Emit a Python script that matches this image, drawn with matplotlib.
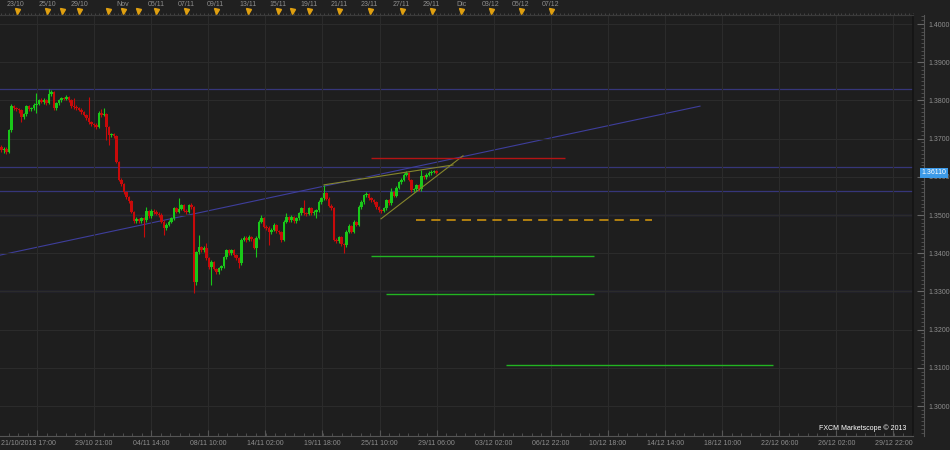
import numpy as np
import matplotlib.pyplot as plt
from matplotlib.ticker import MultipleLocator, FixedLocator
import matplotlib.transforms as mtransforms

plt.rcParams['font.family'] = ['Liberation Sans', 'DejaVu Sans']

# H4 candles, EUR/USD-like (open = previous close)
first_open = 1.3678
closes = [1.3670, 1.3673, 1.3665, 1.3722, 1.3785, 1.3780, 1.3777, 1.3775, 1.3757, 1.3764,
          1.3785, 1.3777, 1.3780, 1.3788, 1.3791, 1.3801, 1.3796, 1.3801, 1.3793, 1.3817,
          1.3822, 1.3780, 1.3793, 1.3801, 1.3806, 1.3804, 1.3809, 1.3801, 1.3785, 1.3783,
          1.3780, 1.3775, 1.3770, 1.3762, 1.3754, 1.3743, 1.3738, 1.3736, 1.3730, 1.3767,
          1.3762, 1.3764, 1.3730, 1.3709, 1.3712, 1.3707, 1.3639, 1.3592, 1.3581, 1.3560,
          1.3547, 1.3537, 1.3508, 1.3484, 1.3490, 1.3484, 1.3492, 1.3487, 1.3511, 1.3497,
          1.3511, 1.3508, 1.3503, 1.3500, 1.3482, 1.3466, 1.3474, 1.3482, 1.3492, 1.3518,
          1.3508, 1.3516, 1.3526, 1.3511, 1.3508, 1.3526, 1.3521, 1.3325, 1.3403, 1.3416,
          1.3408, 1.3414, 1.3387, 1.3364, 1.3377, 1.3359, 1.3351, 1.3361, 1.3366, 1.3390,
          1.3408, 1.3400, 1.3408, 1.3395, 1.3387, 1.3374, 1.3435, 1.3440, 1.3435, 1.3442,
          1.3437, 1.3414, 1.3440, 1.3482, 1.3492, 1.3469, 1.3466, 1.3456, 1.3461, 1.3474,
          1.3458, 1.3456, 1.3435, 1.3482, 1.3495, 1.3487, 1.3495, 1.3484, 1.3492, 1.3505,
          1.3518, 1.3505, 1.3503, 1.3518, 1.3505, 1.3508, 1.3513, 1.3534, 1.3544, 1.3558,
          1.3542, 1.3524, 1.3518, 1.3435, 1.3432, 1.3442, 1.3424, 1.3421, 1.3456, 1.3471,
          1.3456, 1.3482, 1.3474, 1.3521, 1.3534, 1.3552, 1.3555, 1.3544, 1.3539, 1.3534,
          1.3521, 1.3513, 1.3511, 1.3518, 1.3539, 1.3531, 1.3560, 1.3550, 1.3571, 1.3586,
          1.3592, 1.3605, 1.3610, 1.3592, 1.3565, 1.3568, 1.3578, 1.3568, 1.3602, 1.3599,
          1.3605, 1.3610, 1.3613, 1.3615, 1.3611]
highs = [1.3682, 1.3678, 1.3677, 1.3726, 1.3790, 1.3789, 1.3784, 1.3781, 1.3778, 1.3768,
         1.3789, 1.3788, 1.3784, 1.3792, 1.3819, 1.3805, 1.3806, 1.3806, 1.3804, 1.3830,
         1.3828, 1.3825, 1.3797, 1.3805, 1.3810, 1.3810, 1.3813, 1.3812, 1.3804, 1.3806,
         1.3787, 1.3784, 1.3779, 1.3773, 1.3765, 1.3809, 1.3747, 1.3742, 1.3740, 1.3771,
         1.3777, 1.3780, 1.3768, 1.3734, 1.3716, 1.3715, 1.3710, 1.3642, 1.3596, 1.3585,
         1.3564, 1.3550, 1.3540, 1.3511, 1.3494, 1.3493, 1.3496, 1.3495, 1.3522, 1.3514,
         1.3515, 1.3515, 1.3512, 1.3507, 1.3504, 1.3486, 1.3478, 1.3486, 1.3496, 1.3522,
         1.3521, 1.3544, 1.3530, 1.3529, 1.3515, 1.3530, 1.3531, 1.3524, 1.3407, 1.3448,
         1.3420, 1.3418, 1.3427, 1.3390, 1.3381, 1.3380, 1.3362, 1.3365, 1.3370, 1.3394,
         1.3412, 1.3412, 1.3412, 1.3411, 1.3398, 1.3390, 1.3439, 1.3446, 1.3444, 1.3447,
         1.3446, 1.3440, 1.3444, 1.3486, 1.3500, 1.3495, 1.3474, 1.3470, 1.3465, 1.3480,
         1.3477, 1.3462, 1.3459, 1.3486, 1.3505, 1.3498, 1.3499, 1.3498, 1.3496, 1.3509,
         1.3522, 1.3539, 1.3509, 1.3522, 1.3521, 1.3512, 1.3517, 1.3538, 1.3548, 1.3578,
         1.3561, 1.3546, 1.3528, 1.3521, 1.3439, 1.3446, 1.3445, 1.3428, 1.3460, 1.3476,
         1.3474, 1.3486, 1.3485, 1.3525, 1.3538, 1.3556, 1.3560, 1.3558, 1.3547, 1.3542,
         1.3537, 1.3524, 1.3516, 1.3522, 1.3543, 1.3542, 1.3571, 1.3563, 1.3575, 1.3590,
         1.3596, 1.3609, 1.3614, 1.3613, 1.3595, 1.3572, 1.3582, 1.3581, 1.3618, 1.3606,
         1.3609, 1.3614, 1.3617, 1.3619, 1.3619]
lows = [1.3666, 1.3663, 1.3660, 1.3662, 1.3718, 1.3776, 1.3772, 1.3768, 1.3743, 1.3752,
        1.3760, 1.3773, 1.3772, 1.3776, 1.3767, 1.3787, 1.3792, 1.3791, 1.3788, 1.3790,
        1.3812, 1.3776, 1.3776, 1.3789, 1.3797, 1.3800, 1.3800, 1.3797, 1.3781, 1.3778,
        1.3775, 1.3771, 1.3765, 1.3758, 1.3750, 1.3739, 1.3734, 1.3731, 1.3726, 1.3727,
        1.3757, 1.3758, 1.3696, 1.3683, 1.3704, 1.3702, 1.3635, 1.3588, 1.3576, 1.3556,
        1.3542, 1.3532, 1.3504, 1.3479, 1.3480, 1.3479, 1.3480, 1.3442, 1.3483, 1.3493,
        1.3493, 1.3503, 1.3499, 1.3495, 1.3478, 1.3448, 1.3462, 1.3470, 1.3478, 1.3488,
        1.3504, 1.3504, 1.3512, 1.3507, 1.3503, 1.3504, 1.3516, 1.3296, 1.3318, 1.3399,
        1.3403, 1.3403, 1.3383, 1.3359, 1.3317, 1.3355, 1.3346, 1.3346, 1.3357, 1.3362,
        1.3386, 1.3396, 1.3396, 1.3391, 1.3383, 1.3361, 1.3370, 1.3431, 1.3430, 1.3431,
        1.3433, 1.3410, 1.3390, 1.3436, 1.3478, 1.3465, 1.3461, 1.3421, 1.3451, 1.3457,
        1.3454, 1.3451, 1.3430, 1.3431, 1.3478, 1.3483, 1.3483, 1.3480, 1.3480, 1.3488,
        1.3501, 1.3501, 1.3498, 1.3499, 1.3501, 1.3500, 1.3492, 1.3509, 1.3530, 1.3540,
        1.3538, 1.3520, 1.3513, 1.3431, 1.3427, 1.3428, 1.3420, 1.3400, 1.3417, 1.3452,
        1.3452, 1.3452, 1.3470, 1.3470, 1.3517, 1.3530, 1.3548, 1.3540, 1.3535, 1.3530,
        1.3517, 1.3509, 1.3506, 1.3507, 1.3514, 1.3527, 1.3527, 1.3546, 1.3546, 1.3567,
        1.3582, 1.3588, 1.3601, 1.3588, 1.3561, 1.3560, 1.3564, 1.3564, 1.3564, 1.3595,
        1.3595, 1.3601, 1.3606, 1.3609, 1.3607]
last_price = 1.36110

# drawn objects (x in candle index)
levels_blue = [1.3830, 1.3626, 1.3563, 1.3500, 1.3300]
trend_blue = ([-0.6, 279.4], [1.3395, 1.3785])
wedge_upper = ([129, 180.6], [1.3579, 1.3631])
wedge_lower = ([151.8, 184.6], [1.3490, 1.3655])
red_level = (1.3649, 147.8, 225.4)
orange_level = (1.3487, 165.8, 260.2)
green_levels = [(1.3392, 147.8, 237.0), (1.3293, 153.8, 237.0), (1.3107, 201.8, 308.6)]

bottom_labels = ['', '29/10 21:00', '04/11 14:00', '08/11 10:00', '14/11 02:00', '19/11 18:00',
                 '25/11 10:00', '29/11 06:00', '03/12 02:00', '06/12 22:00', '10/12 18:00',
                 '14/12 14:00', '18/12 10:00', '22/12 06:00', '26/12 02:00', '29/12 22:00']
top_labels = ['23/10', '25/10', '29/10', 'Nov', '05/11', '07/11', '09/11', '13/11', '15/11',
              '19/11', '21/11', '23/11', '27/11', '29/11', 'Dic', '03/12', '05/12', '07/12']
top_pos = [5.4, 18.2, 31, 48.6, 61.8, 73.8, 85.4, 98.6, 110.6, 123, 135, 147, 159.8,
           171.8, 184.2, 195.8, 207.8, 219.8]
marker_pos = [6.2, 18.2, 24.2, 31, 42.6, 48.6, 54.6, 61.8, 73.8, 85.8, 98.6, 110.6, 116.2,
              123, 135, 147.4, 160.2, 172.2, 183.8, 195.8, 207.8, 219.8]

bg = '#1e1e1e'
txt = '#8e8e8e'

closes = np.array(closes)
opens = np.r_[first_open, closes[:-1]]
x = np.arange(len(closes))
up = closes >= opens
cols = np.where(up, '#19c819', '#c80a0a')

fig = plt.figure(figsize=(9.5, 4.5), dpi=100, facecolor='#202020')
ax = fig.add_axes([0, 1 - 436 / 450, 913 / 950, 421 / 450])
ax.set_facecolor(bg)
ax.set_xlim(-0.6, 364.6)
ax.set_ylim(1.29215, 1.40236)

# grid
grid_x = 14.2 + 22.84 * np.arange(16)
ax.xaxis.set_major_locator(FixedLocator(grid_x))
ax.xaxis.set_minor_locator(FixedLocator(np.arange(-8.6, 365, 22.84 / 6)))
ax.set_xticklabels(bottom_labels)
ax.yaxis.set_major_locator(MultipleLocator(0.01))
ax.yaxis.set_minor_locator(MultipleLocator(0.001))
ax.yaxis.set_major_formatter(lambda v, p: f'{v:.4f}')
ax.grid(which='major', color='#2b2b2b', lw=0.8, zorder=0)

for lv in levels_blue:
    ax.axhline(lv, color='#36367a', lw=0.9, zorder=1)
ax.plot(*trend_blue, color='#3e3e9c', lw=0.8, zorder=1)

# candles
ax.vlines(x, lows, highs, colors=cols, lw=0.8, zorder=3)
body_lo = np.minimum(opens, closes)
body_h = np.maximum(np.abs(closes - opens), 0.00015)
ax.bar(x, body_h, bottom=body_lo, width=0.88, color=cols, linewidth=0, zorder=4,
       antialiased=False)

# drawings
ax.plot(*wedge_upper, color='#86862c', lw=0.8, zorder=5)
ax.plot(*wedge_lower, color='#86862c', lw=0.8, zorder=5)
ax.hlines(red_level[0], red_level[1], red_level[2], color='#b41414', lw=1.0, zorder=5)
ax.hlines(orange_level[0], orange_level[1], orange_level[2], color='#d99a0c', lw=1.1,
          linestyles=(0, (6, 4)), zorder=5)
for lv, a, b in green_levels:
    ax.hlines(lv, a, b, color='#22b422', lw=1.0, zorder=5)

# axes styling
ax.spines['left'].set_visible(False)
ax.spines['top'].set_color('#3a3a3a')
ax.spines['bottom'].set_color('#555555')
ax.spines['right'].set_position(('outward', 8))
ax.spines['right'].set_color('#555555')
ax.plot([1, 1], [0, 1], transform=ax.transAxes, color='#141414', lw=1.2, clip_on=False)
ax.yaxis.tick_right()
ax.tick_params(axis='y', which='major', direction='in', length=5, color='#666666',
               labelsize=5, labelcolor=txt, pad=3)
ax.tick_params(axis='y', which='minor', direction='in', length=2.5, color='#555555')
ax.tick_params(axis='x', which='major', direction='in', length=4, color='#555555',
               labelsize=5, labelcolor=txt, pad=3)
ax.tick_params(axis='x', which='minor', direction='in', length=2, color='#555555')
ax.text(0.001, -0.019, '21/10/2013 17:00', transform=ax.transAxes, ha='left', va='center',
        fontsize=5, color=txt)

# top date ruler
sec = ax.secondary_xaxis('top')
sec.set_xticks(top_pos, top_labels)
sec.xaxis.set_minor_locator(MultipleLocator(1.5))
sec.tick_params(which='major', length=0, labelsize=5, labelcolor=txt, pad=5)
sec.tick_params(which='minor', direction='out', length=1.8, color='#4a4a4a')
sec.spines['top'].set_color('#3a3a3a')
ax.plot(marker_pos, [1.0095] * len(marker_pos), 'v', color='#e0a010', ms=3.6,
        transform=ax.get_xaxis_transform(), clip_on=False, zorder=6)

# current price tag
tr = mtransforms.blended_transform_factory(ax.transAxes, ax.transData)
ax.text(1.0095, last_price, f'{last_price:.5f}', transform=tr, ha='left', va='center',
        fontsize=5, color='white', clip_on=False, zorder=7,
        bbox=dict(boxstyle='square,pad=0.2', fc='#3d9be9', ec='none'))

fig.text(906 / 950, 1 - 428 / 450, 'FXCM Marketscope \u00a9 2013', ha='right', va='center',
         fontsize=5, color='white')

fig.savefig('out.png', dpi=100, facecolor=fig.get_facecolor())
